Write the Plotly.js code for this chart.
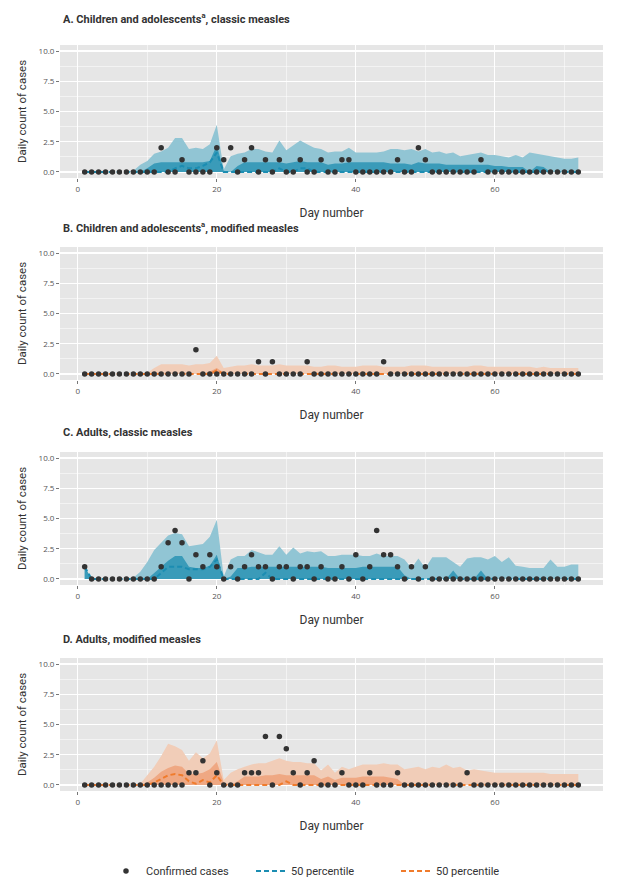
<!DOCTYPE html>
<html>
<head>
<meta charset="utf-8">
<script src="https://cdn.plot.ly/plotly-3.0.1.min.js"></script>
<style>html,body{margin:0;padding:0;background:#fff}#chart{width:629px;height:886px}</style>
</head>
<body>
<div id="chart"></div>
<script>
// ---------------- data ----------------
const days = [1,2,3,4,5,6,7,8,9,10,11,12,13,14,15,16,17,18,19,20,21,22,23,24,25,26,27,28,29,30,31,32,33,34,35,36,37,38,39,40,41,42,43,44,45,46,47,48,49,50,51,52,53,54,55,56,57,58,59,60,61,62,63,64,65,66,67,68,69,70,71,72];

const panelTitles = [
  "A. Children and adolescents<sup>a</sup>, classic measles",
  "B. Children and adolescents<sup>a</sup>, modified measles",
  "C. Adults, classic measles",
  "D. Adults, modified measles"
];

// Confirmed cases (daily counts)
const casesA = [0,0,0,0,0,0,0,0,0,0, 0,2,0,0,1,0,0,0,0,2, 1,2,0,1,2,0,1,0,1,0, 0,1,0,0,1,0,0,1,1,0, 0,0,0,0,0,1,0,0,2,1, 0,0,0,0,0,0,0,1,0,0, 0,0,0,0,0,0,0,0,0,0, 0,0];
const casesB = [0,0,0,0,0,0,0,0,0,0, 0,0,0,0,0,0,2,0,0,0, 0,0,0,0,0,1,0,1,0,0, 0,0,1,0,0,0,0,0,0,0, 0,0,0,1,0,0,0,0,0,0, 0,0,0,0,0,0,0,0,0,0, 0,0,0,0,0,0,0,0,0,0, 0,0];
const casesC = [1,0,0,0,0,0,0,0,0,0, 0,1,3,4,3,0,2,1,2,1, 0,1,0,1,2,1,1,0,1,1, 0,1,1,0,1,0,0,1,0,2, 0,1,4,2,2,1,0,1,0,1, 0,0,0,0,0,0,0,0,0,0, 0,0,0,0,0,0,0,0,0,0, 0,0];
const casesD = [0,0,0,0,0,0,0,0,0,0, 0,0,0,0,0,1,1,2,0,1, 0,0,0,1,1,1,4,0,4,3, 1,0,1,2,0,0,0,1,0,0, 0,1,0,0,0,1,0,0,0,0, 0,0,0,0,0,1,0,0,0,0, 0,0,0,0,0,0,0,0,0,0, 0,0];

// Outer band upper bound (lower bound 0)
const outerA = [0,0,0,0,0,0,0,0.1,0.6,0.9, 1.5,1.7,2.0,2.8,2.8,1.9,2.0,1.9,2.3,3.9, 0.2,1.3,1.5,1.6,1.9,1.9,1.7,1.6,2.6,1.8, 2.2,2.6,2.3,2.0,1.9,1.6,1.7,1.7,2.0,1.6, 1.6,1.6,1.6,1.7,1.9,1.9,1.8,1.9,1.7,1.9, 1.6,1.7,1.5,1.6,1.3,1.4,1.5,1.6,1.4,1.4, 1.3,1.2,1.4,1.2,1.6,1.5,1.4,1.3,1.2,1.1, 1.1,1.2];
const outerB = [0,0,0,0,0,0,0,0,0,0.1, 0.5,0.8,0.8,0.8,0.8,0.7,0.8,0.8,0.9,1.5, 0.5,0.6,0.7,0.7,0.8,0.7,0.7,0.7,0.8,0.7, 0.7,0.7,0.7,0.6,0.6,0.7,0.7,0.6,0.6,0.6, 0.7,0.7,0.7,0.6,0.6,0.6,0.6,0.7,0.7,0.7, 0.6,0.6,0.6,0.6,0.6,0.6,0.7,0.7,0.6,0.6, 0.6,0.6,0.6,0.6,0.6,0.5,0.6,0.5,0.5,0.5, 0.5,0.5];
const outerC = [1,0,0,0,0,0,0,0.1,0.6,1.4, 2.4,3.0,3.6,3.8,3.7,2.7,2.8,2.9,3.5,4.9, 0.2,1.6,1.9,1.9,2.4,2.2,2.0,2.0,2.7,2.0, 2.6,2.1,2.3,2.2,2.3,1.9,1.9,2.0,2.0,2.0, 1.9,1.9,2.1,1.9,1.9,1.9,1.6,0.9,1.7,0.9, 1.8,1.8,1.8,1.4,1.0,1.7,1.8,1.8,1.6,1.9, 1.4,1.8,1.1,1.0,0.9,0.9,0.9,1.6,1.0,1.0, 1.2,1.2];
const outerD = [0,0,0,0,0,0,0,0,0.1,0.8, 1.5,2.4,3.4,3.2,2.9,2.0,2.7,2.2,2.6,3.7, 0.4,1.0,1.3,1.5,1.7,1.8,1.8,2.0,2.2,2.0, 1.9,1.9,1.8,1.8,1.2,1.7,1.0,1.5,1.3,1.5, 1.7,1.7,1.7,1.8,1.7,1.7,1.3,1.4,1.5,1.3, 1.5,1.4,1.7,1.4,1.5,1.2,1.3,1.2,1.1,1.0, 1.0,1.0,1.0,1.0,1.0,1.0,1.0,0.9,0.9,0.9, 0.9,0.9];

// Inner band upper bound (lower bound 0)
const innerA = [0,0,0,0,0,0,0,0,0,0.3, 0.7,0.8,0.8,0.8,0.8,0.8,0.8,0.8,0.9,2.2, 0.1,0,0.5,0.8,0.8,0.8,0.8,0.8,0.8,0.7, 0.8,0.9,0.8,0.8,0.8,0.6,0.7,0.7,0.8,0.8, 0.8,0.8,0.8,0.8,0.7,0.7,0.7,0.6,0.8,0.7, 0.7,0.7,0.6,0.6,0.6,0.6,0.6,0.6,0.6,0.5, 0.5,0.4,0.4,0.4,0,0.5,0.4,0,0,0, 0,0];
const innerB = [0,0,0,0,0,0,0,0,0,0, 0,0,0,0,0,0,0,0,0.2,0.5, 0.1,0,0,0,0,0,0,0,0,0, 0,0,0,0,0,0,0,0,0,0, 0,0,0,0,0,0,0,0,0,0, 0,0,0,0,0,0,0,0,0,0, 0,0,0,0,0,0,0,0,0,0, 0,0];
const innerC = [1,0,0,0,0,0,0,0,0,0, 0.5,1.0,1.5,1.9,1.9,1.0,0.9,0.9,1.1,2.0, 0,0.2,0.9,0.9,1.0,1.0,1.0,1.0,1.0,1.0, 1.0,1.0,1.0,1.0,1.0,0.9,0.9,0.9,0.9,0.9, 1.0,1.0,1.0,1.0,1.0,1.0,0.3,0,0,0, 0,0,0,0.7,0,0,0,0.7,0,0, 0,0,0,0,0,0,0,0,0,0, 0,0];
const innerD = [0,0,0,0,0,0,0,0,0,0.2, 0.6,1.1,1.4,1.6,1.5,0.9,0.9,1.0,1.3,1.9, 0.2,0,0.3,0.7,0.7,0.7,0.8,0.8,0.9,0.8, 0.8,0.8,0.8,0.8,0.5,0.7,0.4,0.6,0.6,0.6, 0.7,0.7,0.7,0.7,0.6,0.5,0,0,0,0, 0,0,0,0,0,0,0,0,0,0, 0,0,0,0,0,0,0,0,0,0, 0,0];

// 50 percentile (median)
const medianA = [0,0,0,0,0,0,0,0,0,0, 0,0,0,0.3,0.5,0.3,0.3,0.5,0.8,1.6, 0,0,0,0,0,0,0,0,0.3,0, 0,0.3,0.3,0,0,0,0,0,0,0, 0,0,0,0,0,0,0,0,0,0, 0,0,0,0,0,0,0,0,0,0, 0,0,0,0,0,0,0,0,0,0, 0,0];
const medianB = [0,0,0,0,0,0,0,0,0,0, 0,0,0,0,0,0,0,0,0,0.3, 0,0,0,0,0,0,0,0,0,0, 0,0,0,0,0,0,0,0,0,0, 0,0,0,0,0,0,0,0,0,0, 0,0,0,0,0,0,0,0,0,0, 0,0,0,0,0,0,0,0,0,0, 0,0];
const medianC = [1,0,0,0,0,0,0,0,0,0, 0,0.5,1,1,1,0.8,0.8,0.8,1.0,1.6, 0,0,0,0,0,0,0.5,0,0,0, 0,0,0,0,0,0,0,0,0,0, 0,0,0,0,0,0,0,0,0,0, 0,0,0,0,0,0,0,0,0,0, 0,0,0,0,0,0,0,0,0,0, 0,0];
const medianD = [0,0,0,0,0,0,0,0,0,0, 0.2,0.5,0.8,0.9,0.8,0.3,0.1,0.4,0.2,0.8, 0,0,0,0,0,0,0,0,0,0.3, 0,0,0,0,0,0,0,0,0,0, 0,0,0,0,0,0,0,0,0,0, 0,0,0,0,0,0,0,0,0,0, 0,0,0,0,0,0,0,0,0,0, 0,0];

const xTicks = [0,20,40,60];
const yTicks = [0,2.5,5,7.5,10];
const legendNames = ["Confirmed cases","50 percentile","50 percentile"];

// ---------------- styling ----------------
const W = 629, H = 886;
const BLUE = {outer:'#91C5D4', inner:'#3A9BB9', median:'#1B8DB2'};
const ORANGE = {outer:'#F1CDB8', inner:'#EFA883', median:'#F07B2C'};
const panels = [
  {cases:casesA, outer:outerA, inner:innerA, median:medianA, col:BLUE},
  {cases:casesB, outer:outerB, inner:innerB, median:medianB, col:ORANGE},
  {cases:casesC, outer:outerC, inner:innerC, median:medianC, col:BLUE},
  {cases:casesD, outer:outerD, inner:innerD, median:medianD, col:ORANGE}
];
const PLOT_L = 60, PLOT_R = 603, PH = 133;
const TOPS = [45, 247, 452, 658];
const TITLE_Y = [18, 228, 433, 639];
const py = p => 1 - p / H;
const FONT = 'Roboto, "Open Sans", sans-serif';
const TICKFONT = '"Open Sans", "Noto Sans", sans-serif';

const traces = [];
const layout = {
  width: W, height: H,
  margin: {l:0, r:0, t:0, b:0},
  paper_bgcolor: '#ffffff',
  plot_bgcolor: '#E6E6E6',
  font: {family: FONT, color: '#333'},
  showlegend: true,
  legend: {orientation:'h', x:0.5 + 9 / W, xanchor:'center', y:py(871), yanchor:'middle',
           font:{size:11, color:'#333', family: FONT}, entrywidth:100, itemwidth:30,
           bgcolor:'rgba(0,0,0,0)'},
  annotations: []
};

panels.forEach((p, i) => {
  const n = i === 0 ? '' : String(i + 1);
  const xa = 'x' + n, ya = 'y' + n;
  const top = TOPS[i], bottom = top + PH;
  layout['xaxis' + n] = {
    domain: [PLOT_L / W, PLOT_R / W], anchor: ya,
    range: [-2.55, 75.55], tickvals: xTicks, ticktext: xTicks.map(String),
    showgrid: true, gridcolor: '#ffffff', gridwidth: 1.2, zeroline: false,
    minor: {dtick: 10, tick0: 0, showgrid: true, gridcolor: '#ffffff', gridwidth: 0.5},
    ticks: 'outside', ticklen: 3, tickcolor: '#555', tickwidth: 0.8,
    tickfont: {size: 8, color: '#555', family: TICKFONT},
    title: {text: 'Day number', font: {size: 12, color: '#333', family: FONT}, standoff: 16},
    fixedrange: true
  };
  layout['yaxis' + n] = {
    domain: [py(bottom), py(top)], anchor: xa,
    range: [-0.5, 10.5], tickvals: yTicks, tickformat: '.1f',
    showgrid: true, gridcolor: '#ffffff', gridwidth: 1.2, zeroline: false,
    minor: {dtick: 1.25, tick0: 0, showgrid: true, gridcolor: '#ffffff', gridwidth: 0.5},
    ticks: 'outside', ticklen: 3, tickcolor: '#555', tickwidth: 0.8,
    tickfont: {size: 8, color: '#555', family: TICKFONT},
    title: {text: 'Daily count of cases', font: {size: 11.5, color: '#333', family: FONT}, standoff: 9},
    fixedrange: true
  };
  layout.annotations.push({
    text: '<b>' + panelTitles[i] + '</b>', xref: 'paper', yref: 'paper',
    x: 61 / W, y: py(TITLE_Y[i]), xanchor: 'left', yanchor: 'middle', showarrow: false,
    font: {size: 11, color: '#333', family: FONT}
  });

  traces.push({x: days, y: p.outer, xaxis: xa, yaxis: ya, type: 'scatter', mode: 'lines',
    fill: 'tozeroy', fillcolor: p.col.outer, line: {width: 0, color: p.col.outer},
    showlegend: false, hoverinfo: 'skip'});
  traces.push({x: days, y: p.inner, xaxis: xa, yaxis: ya, type: 'scatter', mode: 'lines',
    fill: 'tozeroy', fillcolor: p.col.inner, line: {width: 0, color: p.col.inner},
    showlegend: false, hoverinfo: 'skip'});
  traces.push({x: days, y: p.median, xaxis: xa, yaxis: ya, type: 'scatter', mode: 'lines',
    line: {width: 2, color: p.col.median, dash: '5px,3px'},
    name: legendNames[i === 0 ? 1 : 2], showlegend: i < 2, legendrank: i === 0 ? 2 : 3});
  traces.push({x: days, y: p.cases, xaxis: xa, yaxis: ya, type: 'scatter', mode: 'markers',
    marker: {size: 5.5, color: '#333333'},
    name: legendNames[0], showlegend: i === 0, legendrank: 1});
});

Plotly.newPlot('chart', traces, layout, {staticPlot: true, displayModeBar: false});
</script>
</body>
</html>
